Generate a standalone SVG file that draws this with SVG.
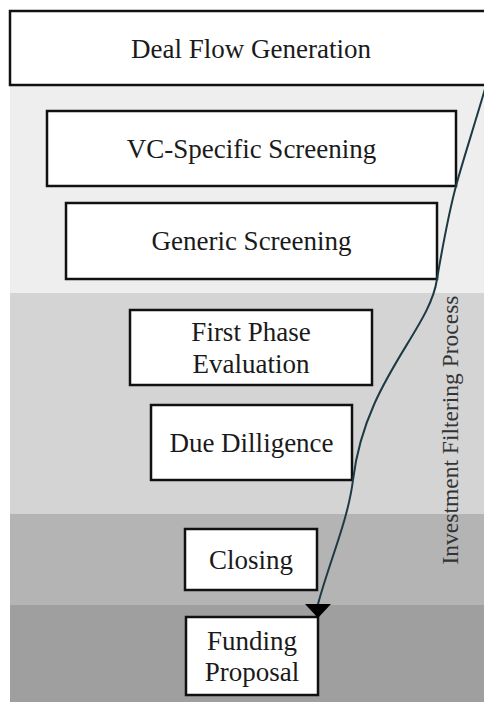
<svg xmlns="http://www.w3.org/2000/svg" width="484" height="702" viewBox="0 0 484 702">
  <defs>
    <style>
      .box { fill: #ffffff; stroke: #111111; stroke-width: 2.5; }
      .lbl { font-family: "Liberation Serif", "Times New Roman", serif; font-size: 27px; fill: #1a1a1a; text-anchor: middle; }
      .side { font-family: "Liberation Serif", "Times New Roman", serif; font-size: 23.5px; fill: #333333; text-anchor: middle; }
      .flow { fill: none; stroke: #1d3a44; stroke-width: 2; }
    </style>
    <marker id="arrow" markerUnits="userSpaceOnUse" markerWidth="15" markerHeight="28" viewBox="0 -14 15 28" refX="0" refY="0" orient="90">
      <path d="M0,-13 L14,0 L0,13 Z" fill="#000000"/>
    </marker>
  </defs>

  <rect x="0" y="0" width="484" height="702" fill="#ffffff"/>
  <g id="bands">
    <rect x="10" y="85" width="474" height="208" fill="#eeeeee"/>
    <rect x="10" y="293" width="474" height="221" fill="#d4d4d4"/>
    <rect x="10" y="514" width="474" height="91" fill="#b4b4b4"/>
    <rect x="10" y="605" width="474" height="97" fill="#9f9f9f"/>
  </g>

  <g id="deal-flow">
    <rect class="box" x="10" y="11" width="480" height="74"/>
    <text class="lbl" x="251" y="58">Deal Flow Generation</text>
  </g>
  <g id="vc-screening">
    <rect class="box" x="47" y="111" width="409" height="75"/>
    <text class="lbl" x="251.5" y="158">VC-Specific Screening</text>
  </g>
  <g id="generic-screening">
    <rect class="box" x="66" y="203" width="371" height="76"/>
    <text class="lbl" x="251.5" y="250">Generic Screening</text>
  </g>
  <g id="first-phase">
    <rect class="box" x="130" y="310" width="242" height="75"/>
    <text class="lbl" x="251" y="341">First Phase</text>
    <text class="lbl" x="251" y="373">Evaluation</text>
  </g>
  <g id="due-diligence">
    <rect class="box" x="151" y="405" width="201" height="75"/>
    <text class="lbl" x="251.5" y="452">Due Dilligence</text>
  </g>
  <g id="closing">
    <rect class="box" x="185" y="529" width="132" height="61"/>
    <text class="lbl" x="251" y="569">Closing</text>
  </g>
  <g id="funding">
    <rect class="box" x="186" y="617" width="132" height="78"/>
    <text class="lbl" x="252" y="650">Funding</text>
    <text class="lbl" x="252" y="681">Proposal</text>
  </g>

  <g id="connectors">
    <path class="flow" marker-end="url(#arrow)" d="M487,82 C477,117 463,160 456,186 C449,212 442,250 437,279 C430,330 365,380 353,480 C348,520 330,560 318,604"/>
  </g>

  <g id="side-label">
    <text class="side" transform="translate(458,430) rotate(-90)" x="0" y="0">Investment Filtering Process</text>
  </g>
</svg>
